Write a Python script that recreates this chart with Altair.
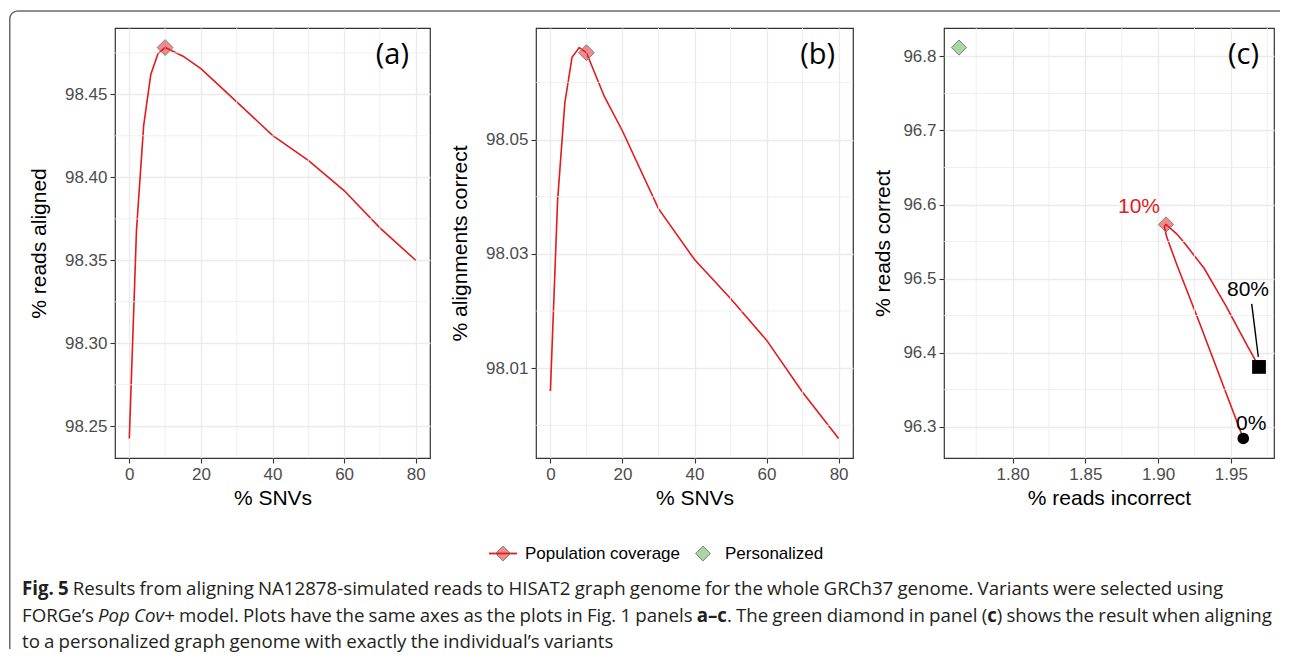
import glob
import os
import struct

import altair as alt
import numpy as np
import pandas as pd

# ---------------------------------------------------------------- data
snv_pct = [0, 2, 4, 6, 8, 10, 15, 20, 30, 40, 50, 60, 70, 80]
reads_aligned = [98.2426, 98.3680, 98.4310, 98.4620, 98.4745, 98.4782, 98.4730,
                 98.4655, 98.4455, 98.4253, 98.4102, 98.3920, 98.3695, 98.3500]
alignments_correct = [98.0060, 98.0394, 98.0564, 98.0644, 98.0661, 98.0652, 98.0575,
                      98.0515, 98.0379, 98.0290, 98.0222, 98.0149, 98.0058, 97.9977]
reads_incorrect = [1.9585, 1.9286, 1.9130, 1.9058, 1.9043, 1.9054, 1.9129,
                   1.9185, 1.9316, 1.9400, 1.9464, 1.9532, 1.9617, 1.9693]
reads_correct = [96.2841, 96.4394, 96.5180, 96.5567, 96.5702, 96.5731, 96.5601,
                 96.5470, 96.5139, 96.4853, 96.4638, 96.4388, 96.4078, 96.3807]
personal_incorrect = [1.7632]
personal_correct = [96.8120]
highlight_snv = 10
start_snv = 0
end_snv = 80
series_names = ["Population coverage", "Personalized"]
panel_tags = ["(a)", "(b)", "(c)"]

snv_ticks = [0, 20, 40, 60, 80]
snv_minor = [10, 30, 50, 70]
a_y_ticks = [98.25, 98.30, 98.35, 98.40, 98.45]
a_y_minor = [98.275, 98.325, 98.375, 98.425, 98.475]
b_y_ticks = [98.01, 98.03, 98.05]
b_y_minor = [98.00, 98.02, 98.04, 98.06]
c_x_ticks = [1.80, 1.85, 1.90, 1.95]
c_x_minor = [1.775, 1.825, 1.875, 1.925, 1.975]
c_y_ticks = [96.3, 96.4, 96.5, 96.6, 96.7, 96.8]
c_y_minor = [96.35, 96.45, 96.55, 96.65, 96.75]

caption_lines = [
    [("Fig. 5", "bold", "normal"),
     (" Results from aligning NA12878-simulated reads to HISAT2 graph genome for the whole "
      "GRCh37 genome. Variants were selected using", "normal", "normal")],
    [("FORGe\u2019s ", "normal", "normal"),
     ("Pop Cov+", "normal", "italic"),
     (" model. Plots have the same axes as the plots in Fig. 1 panels ", "normal", "normal"),
     ("a\u2013c", "bold", "normal"),
     (". The green diamond in panel (", "normal", "normal"),
     ("c", "bold", "normal"),
     (") shows the result when aligning", "normal", "normal")],
    [("to a personalized graph genome with exactly the individual\u2019s variants", "normal", "normal")],
]

df = pd.DataFrame({
    "snv": snv_pct,
    "aligned": reads_aligned,
    "acc": alignments_correct,
    "inc": reads_incorrect,
    "cor": reads_correct,
    "lab": [f"{v}%" for v in snv_pct],
})
pers = pd.DataFrame({"inc": personal_incorrect, "cor": personal_correct})
one = pd.DataFrame({"k": [0]})

# ---------------------------------------------------------------- style / layout
SANS = "Liberation Sans"
CAP_FONT = "Open Sans"
RED = "#E41A1C"
GREEN = "#4DAF4A"
GRID = "#EBEBEB"
EDGE = "#7F7F7F"
FRAME = "#6B6B6B"

OX, OY = 114, 27          # page position of panel (a) plot area
W_A, W_B, W_C, H = 315, 317, 330, 430
GAP_AB, GAP_BC = 106, 91
FX, FY = OX + W_A, OY     # page position of the gap chart that carries frame/legend/caption


def fx(x):
    return x - FX


def fy(y):
    return y - FY


# ------------------------------------------------ font metrics (caption layout)
class Metrics:
    def __init__(self, path):
        d = open(path, "rb").read()
        base = struct.unpack(">I", d[12:16])[0] if d[:4] == b"ttcf" else 0
        n = struct.unpack(">H", d[base + 4:base + 6])[0]
        t = {}
        for i in range(n):
            r = base + 12 + 16 * i
            t[d[r:r + 4].decode("latin-1")] = struct.unpack(">I", d[r + 8:r + 12])[0]
        self.upem = struct.unpack(">H", d[t["head"] + 18:t["head"] + 20])[0]
        nh = struct.unpack(">H", d[t["hhea"] + 34:t["hhea"] + 36])[0]
        hm = t["hmtx"]
        self.adv = [struct.unpack(">H", d[hm + 4 * i:hm + 4 * i + 2])[0] for i in range(nh)]
        c = t["cmap"]
        cnt = struct.unpack(">H", d[c + 2:c + 4])[0]
        self.cm = None
        for i in range(cnt):
            pid, eid, off = struct.unpack(">HHI", d[c + 4 + 8 * i:c + 12 + 8 * i])
            s = c + off
            fmt = struct.unpack(">H", d[s:s + 2])[0]
            if pid == 3 and eid == 1 and fmt == 4:
                seg2 = struct.unpack(">H", d[s + 6:s + 8])[0]
                k = seg2 // 2
                ends = struct.unpack(">%dH" % k, d[s + 14:s + 14 + seg2])
                starts = struct.unpack(">%dH" % k, d[s + 16 + seg2:s + 16 + 2 * seg2])
                deltas = struct.unpack(">%dh" % k, d[s + 16 + 2 * seg2:s + 16 + 3 * seg2])
                ro = s + 16 + 3 * seg2
                roffs = struct.unpack(">%dH" % k, d[ro:ro + seg2])
                self.cm = (ends, starts, deltas, ro, roffs, d)
                break
        if self.cm is None:
            raise ValueError("no cmap")

    def gid(self, code):
        ends, starts, deltas, ro, roffs, d = self.cm
        for i in range(len(ends)):
            if ends[i] >= code:
                if starts[i] > code:
                    return 0
                if roffs[i] == 0:
                    return (code + deltas[i]) & 0xFFFF
                addr = ro + 2 * i + roffs[i] + 2 * (code - starts[i])
                g = struct.unpack(">H", d[addr:addr + 2])[0]
                return (g + deltas[i]) & 0xFFFF if g else 0
        return 0

    def width(self, text, size):
        tot = 0
        for ch in text:
            g = self.gid(ord(ch))
            tot += self.adv[min(g, len(self.adv) - 1)]
        return tot / self.upem * size


def find_metrics():
    files = []
    for root in ["/usr/share/fonts", "/usr/local/share/fonts",
                 os.path.expanduser("~/.fonts"), os.path.expanduser("~/.local/share/fonts")]:
        files += glob.glob(os.path.join(root, "**", "*.[tToO][tT][fF]"), recursive=True)
    found = {}
    for f in sorted(files):
        name = os.path.basename(f).lower().replace(" ", "")
        if not name.startswith("opensans"):
            continue
        if "condensed" in name or "semi" in name or "light" in name or "extra" in name:
            continue
        if "bolditalic" in name:
            continue
        if "italic" in name:
            key = "italic"
        elif "-bold" in name:
            key = "bold"
        elif "regular" in name or "[" in name or "variable" in name or name in ("opensans.ttf",):
            key = "normal"
        else:
            continue
        if key not in found:
            try:
                found[key] = Metrics(f)
            except Exception:
                pass
    return found


METRICS = find_metrics()


def text_width(text, size, weight, style):
    key = "bold" if weight == "bold" else ("italic" if style == "italic" else "normal")
    m = METRICS.get(key) or METRICS.get("normal")
    if m is None:
        w = len(text) * 0.56 * size
    else:
        w = m.width(text, size)
    if key == "bold" and "bold" not in METRICS:
        w *= 1.06
    return w


CAP_X = 21
CAP_Y = [588, 615, 641]
CAP_W = [1242, 1252, 627]   # width of each caption line in the reference
CAP_MAX_W = 1250            # keep the longest line inside the page


def caption_words():
    lines = []
    for segs in caption_lines:
        toks, pend = [], False
        for text, wt, st in segs:
            for j, part in enumerate(text.split(" ")):
                if j > 0:
                    pend = True
                if part:
                    toks.append((part, wt, st, pend))
                    pend = False
        lines.append(toks)
    a = np.array([sum(text_width(p, 1.0, wt, st) for p, wt, st, _ in t) for t in lines])
    n = np.array([sum(1 for *_, sp in t if sp) for t in lines], dtype=float)
    w = np.array(CAP_W, dtype=float)
    (s, sp), *_ = np.linalg.lstsq(np.column_stack([a, n]), w, rcond=None)
    if not (0.15 * s <= sp <= 0.32 * s):
        sp = 0.22 * s
        s = float(np.sum((w - sp * n) * a) / np.sum(a * a))
        sp = 0.22 * s
    widest = max(s * a + sp * n) / CAP_MAX_W
    if widest > 1:
        s, sp = s / widest, sp / widest
    rows = []
    for li, toks in enumerate(lines):
        x = CAP_X
        for part, wt, st, pend in toks:
            if pend:
                x += sp
            rows.append({"w": part, "x": fx(x), "y": fy(CAP_Y[li]), "wt": wt, "st": st})
            x += text_width(part, s, wt, st)
    return pd.DataFrame(rows), float(s)


cap_df, CAP_SIZE = caption_words()

# ------------------------------------------------------------ helpers


def expand(vals, f=0.05):
    lo, hi = min(vals), max(vals)
    d = (hi - lo) * f
    return [lo - d, hi + d]


def make_enc(dom_x, dom_y, ax_x, ax_y):
    sx = alt.Scale(domain=dom_x, nice=False, zero=False)
    sy = alt.Scale(domain=dom_y, nice=False, zero=False)

    def ex(field):
        return alt.X(field, scale=sx, axis=ax_x)

    def ey(field):
        return alt.Y(field, scale=sy, axis=ax_y)
    return ex, ey


def axis(title, values, fmt, title_pad):
    return alt.Axis(title=title, values=values, format=fmt, titlePadding=title_pad)


def minor_layers(xvals, yvals, ex, ey, W):
    v = alt.Chart(pd.DataFrame({"v": xvals})).mark_rule(color=GRID, strokeWidth=0.8).encode(
        x=ex("v:Q"), y=alt.value(0), y2=alt.value(H))
    h = alt.Chart(pd.DataFrame({"v": yvals})).mark_rule(color=GRID, strokeWidth=0.8).encode(
        y=ey("v:Q"), x=alt.value(0), x2=alt.value(W))
    return [v, h]


def tag_layer(tag, W, right_gap):
    return alt.Chart(pd.DataFrame({"t": [tag]})).mark_text(
        font=CAP_FONT, fontSize=29, align="right", baseline="middle", color="black"
    ).encode(text="t:N", x=alt.value(W - right_gap), y=alt.value(27))


def diamond(data, ex, ey, xf, yf, color, size=250):
    return alt.Chart(data).mark_point(
        shape="diamond", filled=True, size=size, fill=color, fillOpacity=0.5,
        stroke=EDGE, strokeWidth=1, opacity=1
    ).encode(x=ex(xf), y=ey(yf))


# ------------------------------------------------------------ panel (a)
ex_a, ey_a = make_enc([-4, 84], expand(reads_aligned),
                      axis("% SNVs", snv_ticks, "d", 5),
                      axis("% reads aligned", a_y_ticks, ".2f", 15))
line_a = alt.Chart(df).mark_line(color=RED, strokeWidth=1.6).encode(
    x=ex_a("snv:Q"), y=ey_a("aligned:Q"), order="snv:Q")
pt_a = diamond(df, ex_a, ey_a, "snv:Q", "aligned:Q", RED).transform_filter(
    alt.datum.snv == highlight_snv)
panel_a = alt.layer(
    line_a, *minor_layers(snv_minor, a_y_minor, ex_a, ey_a, W_A), pt_a,
    tag_layer(panel_tags[0], W_A, 21)
).properties(width=W_A, height=H)

# ------------------------------------------------------------ panel (b)
ex_b, ey_b = make_enc([-4, 84], expand(alignments_correct),
                      axis("% SNVs", snv_ticks, "d", 5),
                      axis("% alignments correct", b_y_ticks, ".2f", 15))
line_b = alt.Chart(df).mark_line(color=RED, strokeWidth=1.6).encode(
    x=ex_b("snv:Q"), y=ey_b("acc:Q"), order="snv:Q")
pt_b = diamond(df, ex_b, ey_b, "snv:Q", "acc:Q", RED).transform_filter(
    alt.datum.snv == highlight_snv)
panel_b = alt.layer(
    line_b, *minor_layers(snv_minor, b_y_minor, ex_b, ey_b, W_B), pt_b,
    tag_layer(panel_tags[1], W_B, 18)
).properties(width=W_B, height=H)

# ------------------------------------------------------------ panel (c)
ex_c, ey_c = make_enc(expand(reads_incorrect + personal_incorrect),
                      expand(reads_correct + personal_correct),
                      axis("% reads incorrect", c_x_ticks, ".2f", 5),
                      axis("% reads correct", c_y_ticks, ".1f", 9))
line_c = alt.Chart(df).mark_line(color=RED, strokeWidth=1.6).encode(
    x=ex_c("inc:Q"), y=ey_c("cor:Q"), order="snv:Q")
pt_c_hi = diamond(df, ex_c, ey_c, "inc:Q", "cor:Q", RED, 230).transform_filter(
    alt.datum.snv == highlight_snv)
pt_c_pers = diamond(pers, ex_c, ey_c, "inc:Q", "cor:Q", GREEN, 230)
pt_start = alt.Chart(df).mark_point(shape="circle", filled=True, size=135, color="black",
                                    opacity=1).encode(
    x=ex_c("inc:Q"), y=ey_c("cor:Q")).transform_filter(alt.datum.snv == start_snv)
pt_end = alt.Chart(df).mark_point(shape="square", filled=True, size=190, color="black",
                                  opacity=1).encode(
    x=ex_c("inc:Q"), y=ey_c("cor:Q")).transform_filter(alt.datum.snv == end_snv)
lab_hi = alt.Chart(df).mark_text(font=SANS, fontSize=21, color=RED, dx=-27, dy=-17,
                                 baseline="middle").encode(
    text="lab:N", x=ex_c("inc:Q"), y=ey_c("cor:Q")).transform_filter(
    alt.datum.snv == highlight_snv)
lab_end = alt.Chart(df).mark_text(font=SANS, fontSize=21, color="black", dx=-11, dy=-77,
                                  baseline="middle").encode(
    text="lab:N", x=ex_c("inc:Q"), y=ey_c("cor:Q")).transform_filter(
    alt.datum.snv == end_snv)
lab_start = alt.Chart(df).mark_text(font=SANS, fontSize=21, color="black", dx=8, dy=-14,
                                    baseline="middle").encode(
    text="lab:N", x=ex_c("inc:Q"), y=ey_c("cor:Q")).transform_filter(
    alt.datum.snv == start_snv)
seg_end = alt.Chart(df).mark_rule(color="black", strokeWidth=1.4, xOffset=-0.7, yOffset=-10,
                                  x2Offset=-7.3, y2Offset=-63).encode(
    x=ex_c("inc:Q"), y=ey_c("cor:Q"), x2="inc:Q", y2="cor:Q").transform_filter(
    alt.datum.snv == end_snv)

panel_c = alt.layer(
    line_c, *minor_layers(c_x_minor, c_y_minor, ex_c, ey_c, W_C), pt_c_hi, pt_c_pers,
    seg_end, pt_start, pt_end, lab_hi, lab_end, lab_start,
    tag_layer(panel_tags[2], W_C, 15)
).properties(width=W_C, height=H)

# ------------------------------------------- gap chart: figure frame, legend, caption
R = 8
FL, FT, FR, FB = fx(8.75), fy(10), fx(1279), fy(648)
frame = [
    alt.Chart(one).mark_rule(color=FRAME, strokeWidth=1.5).encode(
        x=alt.value(FL), y=alt.value(FT + R), y2=alt.value(FB)),
    alt.Chart(one).mark_rule(color=FRAME, strokeWidth=1.5).encode(
        x=alt.value(FL + R), x2=alt.value(FR), y=alt.value(FT)),
    alt.Chart(one).mark_arc(innerRadius=R - 0.75, outerRadius=R + 0.75, theta=4.7124,
                            theta2=6.2832, color=FRAME).encode(
        x=alt.value(FL + R), y=alt.value(FT + R)),
]

LEG_Y = fy(552.5)
legend = [
    alt.Chart(one).mark_rule(color=RED, strokeWidth=1.8).encode(
        x=alt.value(fx(488)), x2=alt.value(fx(516)), y=alt.value(LEG_Y)),
    alt.Chart(one).mark_point(shape="diamond", filled=True, size=220, fill=RED, fillOpacity=0.5,
                              stroke=EDGE, strokeWidth=1, opacity=1).encode(
        x=alt.value(fx(502)), y=alt.value(LEG_Y)),
    alt.Chart(one).mark_point(shape="diamond", filled=True, size=220, fill=GREEN, fillOpacity=0.5,
                              stroke=EDGE, strokeWidth=1, opacity=1).encode(
        x=alt.value(fx(702)), y=alt.value(LEG_Y)),
    alt.Chart(pd.DataFrame({"t": [series_names[0]]})).mark_text(
        font=SANS, fontSize=17, align="left", baseline="middle", color="black").encode(
        text="t:N", x=alt.value(fx(524)), y=alt.value(LEG_Y)),
    alt.Chart(pd.DataFrame({"t": [series_names[1]]})).mark_text(
        font=SANS, fontSize=17, align="left", baseline="middle", color="black").encode(
        text="t:N", x=alt.value(fx(724)), y=alt.value(LEG_Y)),
]

caption = []
for (wt, st), grp in cap_df.groupby(["wt", "st"]):
    caption.append(
        alt.Chart(grp[["w", "x", "y"]].reset_index(drop=True)).mark_text(
            font=CAP_FONT, fontSize=CAP_SIZE, fontWeight=wt, fontStyle=st,
            align="left", baseline="middle", color="#231F20").encode(
            text="w:N",
            x=alt.X("x:Q", scale=None, axis=None),
            y=alt.Y("y:Q", scale=None, axis=None)))

gap_ab = alt.layer(*frame, *legend, *caption).properties(
    width=GAP_AB, height=H, view=alt.ViewBackground(stroke="transparent"))


def spacer(w):
    return alt.Chart(one).mark_point(opacity=0).encode(
        x=alt.value(0), y=alt.value(0)
    ).properties(width=w, height=H, view=alt.ViewBackground(stroke="transparent"))


# ------------------------------------------------------------ assemble
chart = alt.hconcat(
    panel_a, gap_ab, panel_b, spacer(GAP_BC), panel_c,
    spacing=0, bounds="flush",
).properties(
    padding={"left": 0, "top": 1, "right": 0, "bottom": 0},
    background="white",
).configure_view(
    stroke="#333333", strokeWidth=1.2
).configure_axis(
    domain=False, grid=True, gridColor=GRID, gridWidth=1.4,
    tickColor="#333333", tickSize=5, tickWidth=1.1,
    labelColor="#4D4D4D", labelFont=SANS, labelFontSize=17, labelPadding=3,
    titleFont=SANS, titleFontSize=21, titleFontWeight="normal", titleColor="black",
)

chart.save("out.html", embed_options={"renderer": "svg", "actions": False})
